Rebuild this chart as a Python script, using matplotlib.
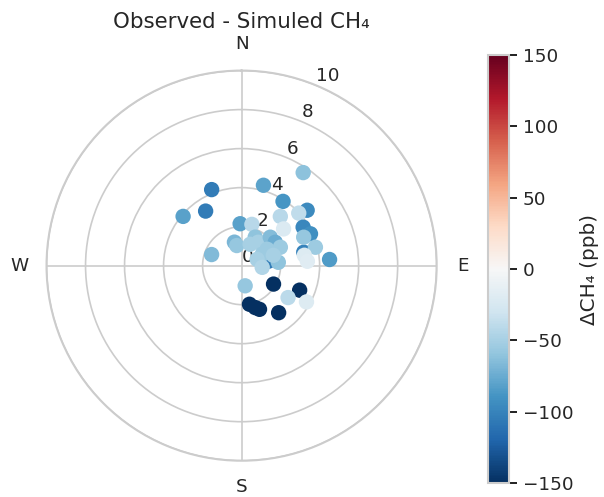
import numpy as np
import matplotlib
matplotlib.use("Agg")
import matplotlib.pyplot as plt
import seaborn as sns

# wind direction (deg, clockwise from N), wind speed, obs - sim CH4 (ppb)
wind_dir = [80.8, 77.8, 33.5, 15.2, 338.5, 326.6, 310.1, 32.8, 49.8, 47.4,
            38.2, 358.0, 14.0, 48.8, 58.0, 65.2, 65.4, 76.0, 80.6, 86.2,
            86.0, 343.0, 346.5, 290.3, 25.5, 35.3, 45.2, 55.2, 64.6, 57.4,
            61.1, 67.9, 84.8, 94.7, 21.8, 71.9, 170.0, 120.0, 112.9, 124.5,
            119.2, 168.5, 162.0, 157.7, 141.8]
wind_speed = [1.38, 3.26, 5.72, 4.27, 4.19, 3.35, 3.92, 3.92, 4.40, 3.98,
              3.21, 2.15, 2.18, 2.86, 3.72, 3.89, 3.50, 3.90, 3.26, 3.38,
              4.52, 1.26, 1.06, 1.64, 1.62, 1.47, 2.07, 2.10, 2.20, 1.56,
              1.21, 0.86, 1.89, 1.06, 1.18, 1.71, 1.05, 1.89, 3.23, 2.89,
              3.81, 2.02, 2.26, 2.42, 3.07]
delta_ch4 = [-105, -100, -62, -80, -105, -105, -82, -88, -95, -38,
             -42, -82, -42, -22, -98, -92, -58, -55, -20, -18,
             -85, -68, -58, -66, -60, -50, -65, -75, -55, -55,
             -55, -50, -60, -45, -50, -50, -58, -150, -150, -40,
             -20, -150, -150, -150, -150]

compass = ["N", "E", "S", "W"]
rticks = [0, 2, 4, 6, 8, 10]
cticks = [-150, -100, -50, 0, 50, 100, 150]

sns.set_theme(style="whitegrid")

fig = plt.figure(figsize=(604 / 120, 497 / 120), dpi=120)
ax = fig.add_axes([0.077, 0.073, 0.646, 0.785], projection="polar")
ax.set_theta_zero_location("N")
ax.set_theta_direction(-1)

sc = ax.scatter(np.deg2rad(wind_dir), wind_speed, c=delta_ch4, cmap="RdBu_r",
                vmin=-150, vmax=150, s=85, edgecolors="none")

ax.set_ylim(0, 10)
ax.set_yticks(rticks)
ax.set_xticks(np.deg2rad([0, 90, 180, 270]))
ax.set_xticklabels(compass)
ax.tick_params(axis="x", pad=3)
ax.set_title("Observed - Simuled CH₄", fontsize=12.8, pad=4)

cax = fig.add_axes([0.808, 0.028, 0.035, 0.861])
cb = fig.colorbar(sc, cax=cax, ticks=cticks)
cb.set_label("ΔCH₄ (ppb)")
cb.outline.set_edgecolor(".8")
cax.tick_params(length=4.5, width=1.2, color=".15")

fig.savefig("out.png", dpi=120)
